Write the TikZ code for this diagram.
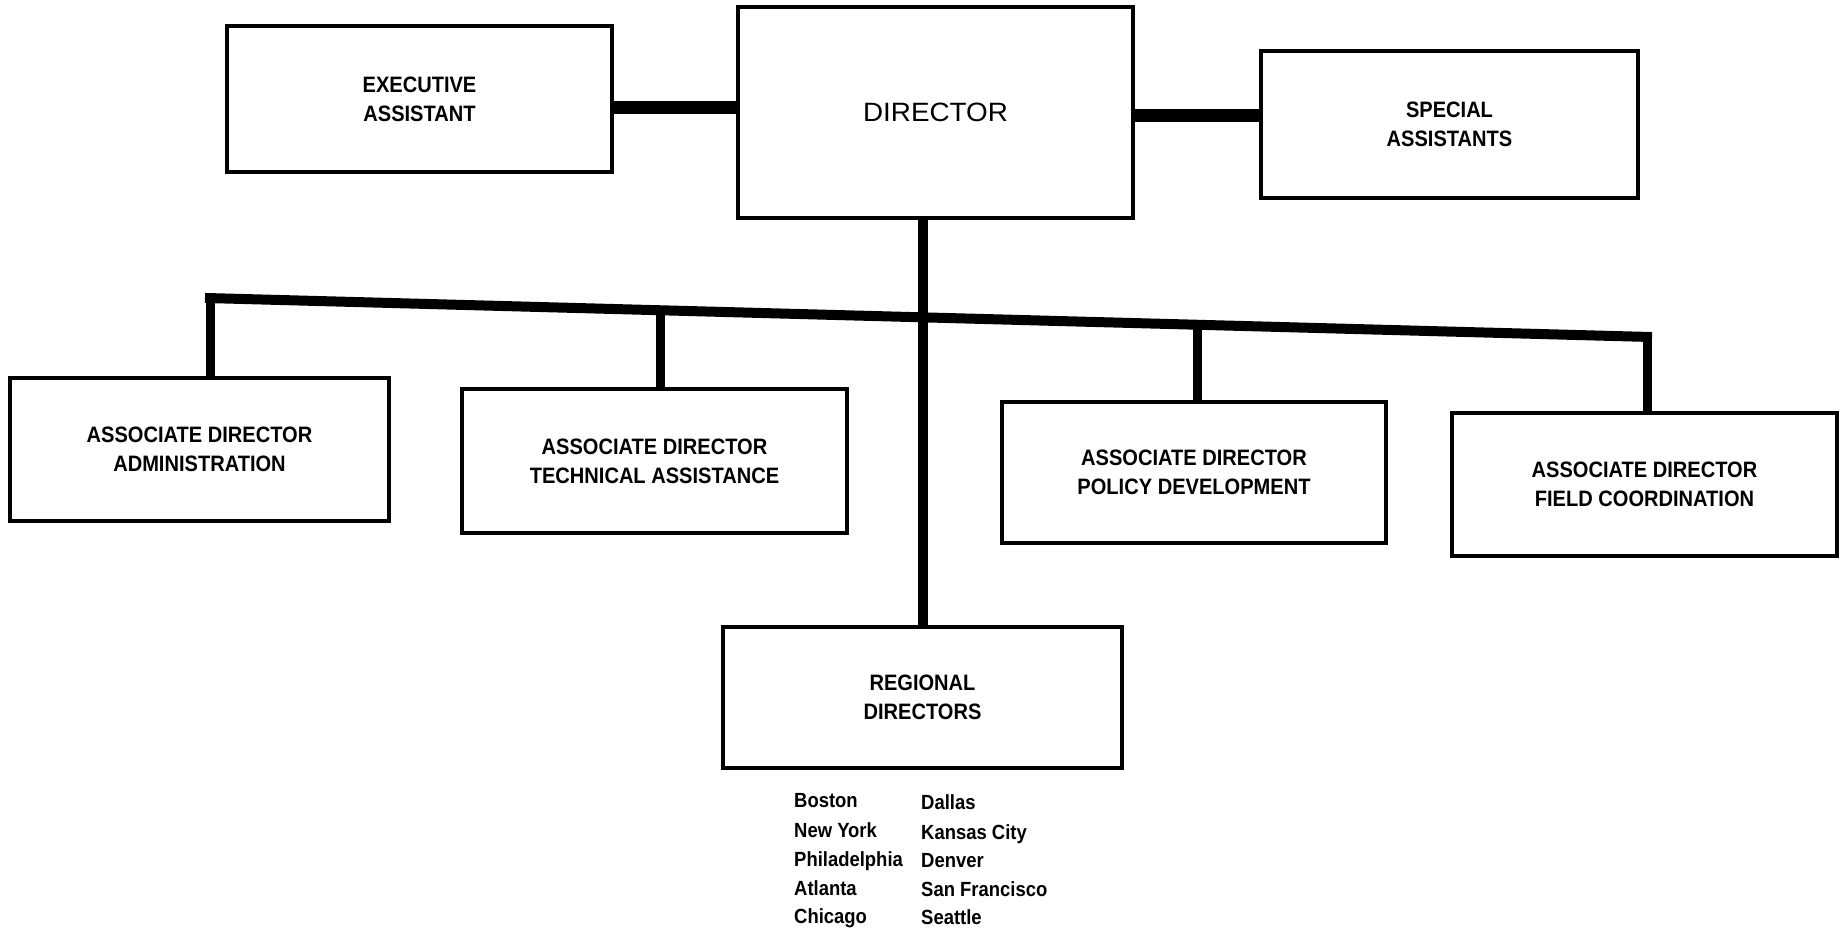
\documentclass[tikz,border=0pt]{standalone}
\usepackage{fontspec}
\setmainfont{Liberation Sans}
\newfontfamily\condfont{Liberation Sans}[FakeStretch=0.9]
\newfontfamily\dirfont{Liberation Sans}[FakeStretch=1.05]
\begin{document}
\begin{tikzpicture}[x=1pt,y=-1pt,
  box/.style={draw, line width=4pt, inner sep=0pt, align=center,
    font=\condfont\bfseries\fontsize{22.3}{29}\selectfont},
  busline/.style={line width=10pt, line cap=rect},
  dropline/.style={line width=9pt},
  sideline/.style={line width=13pt},
  city/.style={inner sep=0pt, anchor=base west,
    font=\condfont\bfseries\fontsize{20.5}{30}\selectfont}]
\useasboundingbox (0,0) rectangle (1841,934);

% top row
\node[box, minimum width=385pt, minimum height=146pt] (exec) at (419.5,99) {EXECUTIVE\\ASSISTANT};
\node[box, minimum width=395pt, minimum height=211pt,
      font=\dirfont\fontsize{26.5}{30}\selectfont] (dir) at (935.5,112.5) {DIRECTOR};
\node[box, minimum width=377pt, minimum height=147pt] (spec) at (1449.5,124.5) {SPECIAL\\ASSISTANTS};

% associate directors
\node[box, minimum width=379pt, minimum height=143pt] (admin) at (199.5,449.5) {ASSOCIATE DIRECTOR\\ADMINISTRATION};
\node[box, minimum width=385pt, minimum height=144pt] (tech) at (654.5,461) {ASSOCIATE DIRECTOR\\TECHNICAL ASSISTANCE};
\node[box, minimum width=384pt, minimum height=141pt] (policy) at (1194,472.5) {ASSOCIATE DIRECTOR\\POLICY DEVELOPMENT};
\node[box, minimum width=385pt, minimum height=143pt] (field) at (1644.5,484.5) {ASSOCIATE DIRECTOR\\FIELD COORDINATION};

% regional
\node[box, minimum width=399pt, minimum height=141pt] (reg) at (922.5,697.5) {REGIONAL\\DIRECTORS};

% side connectors
\draw[sideline] (exec.east |- 0,107) -- (dir.west |- 0,107);
\draw[sideline] (dir.east |- 0,115) -- (spec.west |- 0,115);

% bus
\coordinate (bA) at (210,298.1);
\coordinate (bT) at (660,310.2);
\coordinate (bP) at (1197,324.7);
\coordinate (bF) at (1647,336.9);
\draw[busline] (bA) -- (bF);
\draw[dropline] (bA) -- (bA |- admin.north);
\draw[dropline] (bT) -- (bT |- tech.north);
\draw[dropline] (bP) -- (bP |- policy.north);
\draw[dropline] (bF) -- (bF |- field.north);

% director to regional
\draw[dropline, line width=10pt] (dir.south -| reg.north) -- (reg.north);

% cities
\node[city] (c1) at (794,807) {Boston};
\node[city] (c2) at (794,837) {New York};
\node[city] (c3) at (794,866) {Philadelphia};
\node[city] (c4) at (794,895) {Atlanta};
\node[city] (c5) at (794,923) {Chicago};
\node[city] (c6) at (921,809) {Dallas};
\node[city] (c7) at (921,839) {Kansas City};
\node[city] (c8) at (921,867) {Denver};
\node[city] (c9) at (921,896) {San Francisco};
\node[city] (c10) at (921,924) {Seattle};
\end{tikzpicture}
\end{document}
